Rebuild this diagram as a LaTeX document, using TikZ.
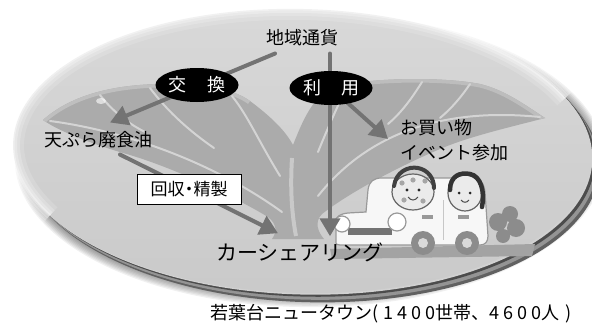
\documentclass[tikz,border=0pt]{standalone}
\usepackage{fontspec}
\newfontfamily\jpfont{Noto Sans CJK JP}
\usetikzlibrary{arrows.meta,shapes.geometric,calc}
\pgfdeclarelayer{scenery}
\pgfdeclarelayer{links}
\pgfsetlayers{scenery,links,main}

\tikzset{
  lbl/.style={font=\jpfont\fontsize{18}{21}\selectfont, inner sep=0pt, text=black},
  badge/.style={ellipse, fill=black, text=white, inner sep=0pt,
    font=\jpfont\fontsize{18}{21}\selectfont, minimum width=83pt, minimum height=34pt},
  tagbox/.style={draw=black, line width=1pt, fill=white, inner sep=0pt,
    font=\jpfont\fontsize{17}{20}\selectfont, minimum width=104pt, minimum height=30pt},
  bigtxt/.style={font=\jpfont\fontsize{21}{24}\selectfont, inner sep=0pt},
  flow/.style={draw=black!55, line width=4pt, line cap=round,
    -{Triangle[length=18pt,width=20pt]}},
  vein/.style={draw=black!17, line width=2pt, line cap=round},
  carline/.style={draw=black!40, line width=1.2pt},
}

% outline of the sprout (two leaves on one stem)
\newcommand\sproutpath{
  (43,120) .. controls (70,96) and (110,85) .. (160,84)
  .. controls (200,83) and (232,88) .. (250,101)
  .. controls (270,116) and (285,130) .. (293,145)
  .. controls (300,128) and (310,100) .. (330,88)
  .. controls (360,78) and (440,76) .. (480,84)
  .. controls (505,90) and (525,105) .. (545,118)
  .. controls (515,126) and (470,136) .. (440,149)
  .. controls (400,166) and (350,192) .. (322,214)
  .. controls (314,222) and (318,232) .. (324,239)
  -- (272,239)
  .. controls (277,232) and (277,224) .. (268,217)
  .. controls (240,200) and (180,170) .. (130,155)
  .. controls (95,145) and (60,132) .. (43,120) -- cycle}

\begin{document}
\begin{tikzpicture}[x=1pt,y=-1pt]
\useasboundingbox (0,0) rectangle (592,324);

% ---------- labels ----------
\node[lbl] (chiiki) at (302,38) {地域通貨};
\node[lbl] (tempura) at (98,140) {天ぷら廃食油};
\node[lbl, anchor=west] (okai) at (400,128) {お買い物};
\node[lbl, anchor=west] (event) at (400,153) {イベント参加};
\node[badge] (kokan) at (197,85) {交\hspace{21pt}換};
\node[badge] (riyou) at (331,88) {利\hspace{20pt}用};
\node[tagbox] (kaishu) at (189,189) {回収\kern-4pt・\kern-4pt精製};
\node[bigtxt, text=black] (carshare) at (300,252) {カーシェアリング};
\node[lbl] (town) at (391,314)
  {若葉台ニュータウン(\hspace{5pt}1\kern4pt4\kern4pt0\kern4pt0世帯、4\kern4pt6\kern4pt0\kern4pt0人\hspace{6pt})};

% ---------- scenery ----------
\begin{pgfonlayer}{scenery}
  % soft drop shadow
  \foreach \k in {0,...,7}
    \fill[black, opacity=0.06] (310,160) ellipse [x radius={286+1.3*\k}, y radius={138+1.3*\k}];
  \begin{scope}[rotate around={-1.5:(302,151)}]
    % stacked rim of the disc
    \fill[black!62] (311,160) ellipse [x radius=289, y radius=142];
    \fill[black!42] (308.5,157.5) ellipse [x radius=289, y radius=142];
    \fill[black!70] (306,154.5) ellipse [x radius=289, y radius=142];
    \fill[black!18] (303.5,152.5) ellipse [x radius=289, y radius=142];
    % face of the disc
    \shade[top color=black!15, bottom color=black!21] (302,151) ellipse [x radius=289, y radius=142];
    % feathered upper-left edge
    \foreach \w/\o in {22/0.15, 14/0.2, 8/0.25, 3/0.35}
      \draw[white, line width=\w pt, opacity=\o]
        ($(302,151)+(150:289 and 142)$) arc[start angle=150, end angle=335, x radius=289, y radius=142];
  \end{scope}

  % sprout
  \fill[black!33] \sproutpath;
  \begin{scope}
    \clip \sproutpath;
    \draw[black!25, line width=7pt]
      (43,120) .. controls (70,96) and (110,85) .. (160,84)
      .. controls (200,83) and (232,88) .. (250,101);
    \draw[black!26, line width=7pt]
      (330,88) .. controls (360,78) and (440,76) .. (480,84)
      .. controls (505,90) and (525,105) .. (545,118);
    % veins
    \draw[vein] (50,121) .. controls (120,130) and (210,160) .. (282,212);
    \draw[vein] (150,88) .. controls (165,108) and (185,128) .. (214,148);
    \draw[vein] (100,95) .. controls (110,108) and (125,122) .. (145,132);
    \draw[vein] (232,96) .. controls (248,116) and (258,140) .. (280,176);
    \draw[vein] (540,117) .. controls (470,110) and (380,118) .. (318,196);
    \draw[vein] (422,82) .. controls (412,98) and (402,112) .. (388,124);
    \draw[vein] (470,84) .. controls (462,96) and (452,108) .. (440,118);
    \draw[vein] (345,90) .. controls (336,110) and (326,132) .. (318,152);
    % lighter stripe on the stem
    \draw[black!21, line width=4pt] (292,158) .. controls (290,190) and (292,215) .. (296,236);
  \end{scope}
  \fill[white, opacity=0.6] (101,101) ellipse [x radius=5, y radius=3];

  % road strip
  \fill[black!36] (330,249) -- (535,244) -- (532,256) -- (332,259) -- cycle;

  % car
  \filldraw[fill=black!3, carline]
    (336,243) -- (336,222) .. controls (336,216) and (340,214) .. (348,213)
    -- (366,212) -- (368,190) .. controls (369,181) and (374,178) .. (382,178)
    -- (472,178) .. controls (480,178) and (484,183) .. (485,192)
    -- (488,236) .. controls (488,242) and (485,245) .. (480,245)
    -- (340,245) .. controls (337,245) and (336,244) .. (336,243) -- cycle;
  \draw[black!22, line width=1pt] (443,200) -- (443,240);
  \fill[black!55] (348,228) rectangle (392,235);
  \filldraw[fill=white, carline] (342,224) circle [radius=8];
  \filldraw[fill=white, carline] (397,222) circle [radius=9];
  \fill[black!40] (422,215) rectangle (433,219);
  \fill[black!40] (458,215) rectangle (469,219);
  \fill[black!45] (423,243) circle [radius=12];
  \fill[black!15] (423,243) circle [radius=5];
  \fill[black!45] (467,243) circle [radius=12];
  \fill[black!15] (467,243) circle [radius=5];

  % boy
  \filldraw[fill=black!8, draw=black!60, line width=1.2pt] (413,192) ellipse [x radius=21, y radius=18];
  \draw[black!75, line width=4pt, line cap=round]
    (394,186) .. controls (396,172) and (408,166) .. (418,168)
    .. controls (428,170) and (434,178) .. (434,188);
  \foreach \p in {(402,183),(425,181),(404,200),(423,201),(413,180)}
    \fill[black!35] \p circle [radius=2.6];
  \fill[black!85] (407,190) circle [radius=1.6];
  \fill[black!85] (419,190) circle [radius=1.6];
  \draw[black!70, line width=1pt] (408,197) .. controls (411,201) and (415,201) .. (418,197);

  % girl
  \filldraw[fill=black!8, draw=black!60, line width=1.2pt] (465,193) ellipse [x radius=17, y radius=18];
  \draw[black!80, line width=4.5pt, line cap=round]
    (450,190) .. controls (450,176) and (460,172) .. (470,174)
    .. controls (481,176) and (485,192) .. (482,207);
  \fill[black!85] (459,193) circle [radius=1.5];
  \fill[black!85] (470,193) circle [radius=1.5];
  \draw[black!70, line width=1pt] (461,200) .. controls (463,203) and (467,203) .. (469,200);

  % exhaust puff
  \fill[black!45] (498,222) circle [radius=9] (510,214) circle [radius=8]
    (516,228) circle [radius=9] (503,236) circle [radius=7];
\end{pgfonlayer}

% ---------- flows ----------
\coordinate (a1s) at ([xshift=-27pt,yshift=-7pt]chiiki.south);
\coordinate (a1e) at ([xshift=12pt,yshift=9pt]tempura.north);
\coordinate (a2s) at ([xshift=28pt,yshift=-7pt]chiiki.south);
\coordinate (a2e) at ([xshift=30pt,yshift=6pt]carshare.north);
\coordinate (a3e) at ([xshift=-12pt,yshift=-11pt]okai.west);
\coordinate (a4s) at ([xshift=22pt,yshift=-6pt]tempura.south);
\coordinate (a4e) at ([xshift=-22pt,yshift=9pt]carshare.north);
\begin{pgfonlayer}{links}
  \draw[flow] (a1s) -- (a1e);
  \draw[flow] (a2s) -- (a2e);
  \draw[flow] (riyou.center) -- (a3e);
  \draw[flow] (a4s) -- (a4e);
\end{pgfonlayer}
\end{tikzpicture}
\end{document}
